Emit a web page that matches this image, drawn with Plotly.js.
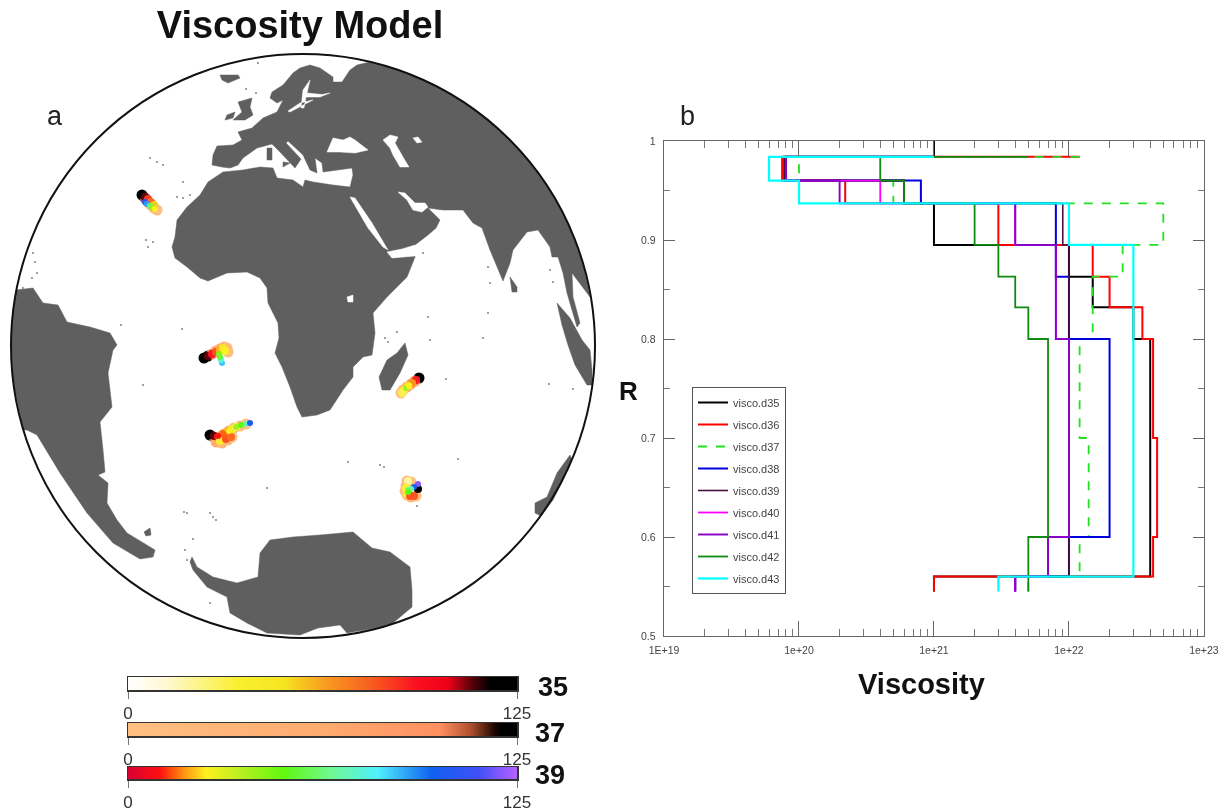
<!DOCTYPE html>
<html>
<head>
<meta charset="utf-8">
<script src="https://cdn.plot.ly/plotly-3.0.1.min.js"></script>
<style>
html,body{margin:0;padding:0;background:#fff;}
#chart{width:1218px;height:812px;filter:blur(0.45px);}
</style>
</head>
<body>
<div id="chart"></div>
<script>
// ---------- Panel b: viscosity profiles ----------
const layerEdges = [1, 0.984, 0.96, 0.937, 0.895, 0.863, 0.832, 0.80, 0.70, 0.60, 0.56, 0.545];
const seriesNames = ['visco.d35','visco.d36','visco.d37','visco.d38','visco.d39','visco.d40','visco.d41','visco.d42','visco.d43'];
const d35 = [1e21, 7.8e19, 6e20, 1e21, 1e22, 1.5e22, 3e22, 4e22, 4e22, 4e22, 1e21];
const d36 = [1.2e22, 7.5e19, 2.2e20, 3e21, 1.5e22, 2e22, 3.5e22, 4.2e22, 4.5e22, 4.2e22, 1e21];
const d37 = [1.2e22, 1e20, 5e20, 5e22, 2.5e22, 1.5e22, 1.5e22, 1.2e22, 1.4e22, 1.2e22, 5e21];
const d38 = [1e21, 8e19, 8e20, 8e21, 8e21, 1e22, 1e22, 2e22, 2e22, 1e22, 4e21];
const d39 = [1e21, 7.8e19, 6e20, 9e21, 1e22, 1e22, 1e22, 1e22, 1e22, 1e22, 4e21];
const d40 = [1e21, 8e19, 4e20, 4e21, 8e21, 8e21, 8e21, 1e22, 1e22, 7e21, 4e21];
const d41 = [1e21, 8e19, 2e20, 4e21, 8e21, 8e21, 8e21, 1e22, 1e22, 7e21, 4e21];
const d42 = [5e21, 4e20, 6e20, 2e21, 3e21, 4e21, 5e21, 7e21, 7e21, 5e21, 5e21];
const d43 = [1e21, 6e19, 1e20, 1e22, 3e22, 3e22, 3e22, 3e22, 3e22, 3e22, 3e21];
const seriesValues = [d35,d36,d37,d38,d39,d40,d41,d42,d43];
const seriesTop = [1, 0.984, 0.984, 0.984, 0.984, 0.984, 0.984, 0.984, 0.984];
const seriesColors = ['#000000','#ff0000','#22e022','#0000dd','#4a0f3c','#ff00ff','#8a00c8','#118a11','#00ffff'];
const seriesDash = ['solid','solid','dash','solid','solid','solid','solid','solid','solid'];
const seriesWidth = [2,2,1.8,2,1.6,1.8,1.9,1.8,2.2];
const xTickVals = [1e19,1e20,1e21,1e22,1e23];
const xTickText = ['1E+19','1e+20','1e+21','1e+22','1e+23'];
const xMinor = [];
[19,20,21,22].forEach(d=>[2,3,4,5,6,7,8,9].forEach(m=>xMinor.push(m*Math.pow(10,d))));
const yTickVals = [0.5,0.6,0.7,0.8,0.9,1];
const yTickText = ['0.5','0.6','0.7','0.8','0.9','1'];
const yMinor = [0.55,0.65,0.75,0.85,0.95];

// ---------- Panel a: map outlines, in map-plane units ----------
const afroEurasiaX = [223,208,200,187,177,175,172,175,187,200,208,227,247,260,267,268,278,279,275,282,290,297,302,317,330,343,353,353,363,372,375,373,387,407,415,415,428,436,440,428,443,463,473,482,490,497,503,510,513,527,538,550,552,558,563,567,577,580,573,572,587,590,583,570,550,525,500,470,433,400,370,357,350,342,333,333,320,310,300,293,283,272,270,277,283,277,263,252,238,242,233,217,213,212,222,230,238,243,257,272,280,290,295,301,286,288,303,310,317,315,322,323,352,353,350,333,313,305,303,293,277,273,260,243];
const afroEurasiaY = [172,182,195,207,220,237,247,258,267,278,281,273,272,278,288,303,323,338,353,367,387,407,417,415,410,390,377,367,357,355,333,313,297,277,257,245,235,228,220,208,210,210,223,228,250,267,281,263,250,232,230,247,257,257,273,293,327,323,297,273,292,297,263,228,190,156,130,106,84,70,62,65,70,82,82,77,68,65,68,73,85,92,98,103,100,112,118,128,132,140,145,146,155,165,167,168,165,158,148,144,152,162,168,159,143,141,155,170,173,158,163,172,168,175,187,185,182,180,187,180,178,168,167,170];
const southAmericaX = [16,33,43,58,67,90,110,117,113,108,112,100,103,105,98,108,107,117,127,155,153,140,113,87,60,37,27,23,13,11,13];
const southAmericaY = [290,288,303,305,322,327,333,345,350,373,407,422,450,472,475,483,503,520,533,550,557,559,543,513,473,435,430,430,380,340,310];
const antarcticaX = [192,197,213,237,258,260,270,293,320,353,372,390,410,412,412,393,370,347,340,318,300,267,247,230,227,207,193,190];
const antarcticaY = [557,567,577,583,577,553,540,537,535,532,548,552,567,590,607,623,629,633,625,628,635,633,623,613,597,587,570,562];
const madagascarX = [405,408,400,390,382,379,387,397];
const madagascarY = [343,355,373,390,390,377,360,353];
const sumatraX = [557,570,582,590,592,592,587,575,568,562];
const sumatraY = [303,318,340,350,370,385,385,365,345,325];
const sriLankaX = [510,517,517,512];
const sriLankaY = [277,287,292,292];
const britainX = [252,250,253,245,233,242,238];
const britainY = [98,107,115,120,120,112,102];
const irelandX = [227,235,233,225];
const irelandY = [115,112,118,120];
const icelandX = [220,238,240,228,222];
const icelandY = [75,75,78,83,80];
const sardiniaX = [267,272,272,267];
const sardiniaY = [148,148,160,160];
const sicilyX = [283,290,283];
const sicilyY = [162,163,167];
const falklandX = [144,150,151,146];
const falklandY = [532,528,535,536];
const australiaX = [570,557,547,535,535,541,553,563,572];
const australiaY = [455,473,497,503,513,516,500,480,460];
const landShapes = [[afroEurasiaX,afroEurasiaY],[southAmericaX,southAmericaY],[antarcticaX,antarcticaY],[madagascarX,madagascarY],[sumatraX,sumatraY],[sriLankaX,sriLankaY],[britainX,britainY],[irelandX,irelandY],[icelandX,icelandY],[sardiniaX,sardiniaY],[sicilyX,sicilyY],[falklandX,falklandY],[australiaX,australiaY]];

const blackSeaX = [327,333,343,350,355,362,368,355,340];
const blackSeaY = [152,138,140,137,140,145,150,153,152];
const caspianX = [383,390,398,395,403,409,400,393,390];
const caspianY = [140,135,137,143,157,167,167,155,148];
const aralX = [413,418,422,417];
const aralY = [138,137,142,143];
const redSeaX = [350,355,372,388,383,368];
const redSeaY = [197,198,223,250,247,228];
const adenX = [387,402,415,420,415,400,392];
const adenY = [252,249,245,250,256,257,258];
const persianX = [398,405,415,425,428,422,413,407];
const persianY = [192,193,203,203,207,212,210,200];
const balticX = [310,303,301,304,306,320,330,322,307];
const balticY = [80,90,108,108,97,97,93,94.5,93];
const northSeaX = [313,290,288,300];
const northSeaY = [100,112,111,103];
const victoriaX = [347,353,353,348];
const victoriaY = [297,295,302,302];
const seaShapes = [[blackSeaX,blackSeaY],[caspianX,caspianY],[aralX,aralY],[redSeaX,redSeaY],[adenX,adenY],[persianX,persianY],[balticX,balticY],[northSeaX,northSeaY],[victoriaX,victoriaY]];

const islandX = [150,157,163,177,183,190,146,153,148,183,33,35,37,32,23,182,121,143,267,446,549,573,348,380,384,458,417,428,397,385,388,430,483,488,490,488,423,553,550,210,193,187,210,213,216,185,187,258,246,256,184];
const islandY = [158,162,165,197,198,195,240,242,247,182,253,262,273,278,288,329,325,385,488,379,384,389,462,465,467,459,506,317,332,338,342,340,338,313,283,267,253,282,270,603,539,513,513,517,520,550,560,63,89,93,512];

// Plume age tracks (Myr) per model
const track37X = [142,145,148,151,154,157, 204,208,212,216,220,224,227,228, 210,214,219,224,229,234,240,246,216,222,228,232, 419,415,411,407,403,401, 407,411,406,405,407,411,416];
const track37Y = [195,198,202,205,208,210, 358,356,354,351,349,347,348,352, 435,437,437,434,431,428,426,424,442,443,440,437, 378,381,384,387,390,393, 481,482,486,491,495,497,496];
const track37Age = [125,110,80,50,25,5, 125,118,100,80,60,40,20,5, 125,110,80,60,40,25,10,0,60,30,15,5, 125,100,60,40,20,0, 10,5,10,5,0,5,10];
const track35X = [142,145,148,151,154, 204,208,212,216,220,223,225, 210,214,218,223,228,232,236,220,226,231, 419,416,412,408,404,402, 408,406,407,410,414,418];
const track35Y = [195,197,199,202,205, 358,356,354,352,350,348,351, 435,436,437,434,431,429,427,441,439,437, 378,380,383,386,390,393, 481,488,494,496,496,489];
const track35Age = [125,110,85,75,55, 125,110,92,80,60,45,35, 125,110,90,75,60,45,30,40,80,75, 125,90,65,50,35,30, 20,35,35,80,80,125];
const track39X = [145,147,150,153,155, 222,221,220,219,224, 218,224,229,236,241,246,250, 406,409, 418,414,411,408,408];
const track39Y = [202,204,206,208,209, 363,360,357,354,350, 436,434,431,427,425,424,423, 388,386, 484,487,489,490,492];
const track39Age = [105,90,60,40,25, 85,75,55,45,25, 10,15,25,40,50,70,100, 40,25, 120,100,70,65,50];

// Color bars
const barAges = [0,5,10,15,20,25,30,35,40,45,50,55,60,65,70,75,80,85,90,95,100,105,110,115,120,125];
const scale35 = [[0,'#ffffff'],[0.1,'#fff8d0'],[0.28,'#f9f030'],[0.4,'#f6e420'],[0.5,'#f8a020'],[0.62,'#f86020'],[0.74,'#fa1020'],[0.82,'#f00018'],[0.88,'#600008'],[0.93,'#000000'],[1,'#000000']];
const scale37 = [[0,'#ffc080'],[0.5,'#ffab70'],[0.8,'#ff9060'],[0.88,'#b05030'],[0.94,'#200800'],[0.96,'#000000'],[1,'#000000']];
const scale39 = [[0,'#d80030'],[0.08,'#ff1010'],[0.14,'#ff9010'],[0.2,'#fff020'],[0.3,'#b0f020'],[0.4,'#60f810'],[0.52,'#70f890'],[0.64,'#50f0ff'],[0.78,'#1060f0'],[0.9,'#4050f8'],[1,'#b860ff']];

// ---------- Build traces ----------
const FONT = 'Liberation Sans, Arial, sans-serif';
const traces = [];
function polyTrace(shapes, color){
  const x=[], y=[];
  shapes.forEach(s=>{ x.push(...s[0], s[0][0], null); y.push(...s[1], s[1][0], null); });
  return {type:'scatter',mode:'lines',x,y,xaxis:'x5',yaxis:'y5',fill:'toself',fillcolor:color,
          line:{color:color,width:0.5},hoverinfo:'skip',showlegend:false};
}
traces.push(polyTrace(landShapes,'#5f5f5f'));
traces.push(polyTrace(seaShapes,'#ffffff'));
traces.push({type:'scatter',mode:'markers',x:islandX,y:islandY,xaxis:'x5',yaxis:'y5',
  marker:{color:'#8a8a8a',size:2.2},hoverinfo:'skip',showlegend:false});
function plume(x,y,age,scale,size){
  return {type:'scatter',mode:'markers',x,y,xaxis:'x5',yaxis:'y5',hoverinfo:'skip',showlegend:false,
    marker:{color:age,cmin:0,cmax:125,colorscale:scale,size:size,line:{width:0},showscale:false}};
}
traces.push(plume(track37X,track37Y,track37Age,scale37,11));
traces.push(plume(track35X,track35Y,track35Age,scale35,8));
traces.push(plume(track39X,track39Y,track39Age,scale39,6));

[[scale35,'x2','y2'],[scale37,'x3','y3'],[scale39,'x4','y4']].forEach(b=>{
  traces.push({type:'heatmap',x:barAges,y:[0,1],z:[barAges,barAges],zmin:0,zmax:125,colorscale:b[0],
    zsmooth:'best',showscale:false,xaxis:b[1],yaxis:b[2],hoverinfo:'skip'});
});

seriesNames.forEach((name,i)=>{
  const x=[], y=[];
  seriesValues[i].forEach((v,k)=>{
    x.push(v,v);
    y.push(k===0?seriesTop[i]:layerEdges[k], layerEdges[k+1]);
  });
  traces.push({type:'scatter',mode:'lines',name,x,y,xaxis:'x',yaxis:'y',legendgroup:name,
    line:{color:seriesColors[i],width:seriesWidth[i],dash:seriesDash[i]},hoverinfo:'skip'});
});

function barX(dom){
  return {domain:dom,range:[0,125],tickmode:'array',tickvals:[0,125],ticktext:['0','125'],ticks:'outside',ticklen:7,tickwidth:1,
    tickcolor:'#777',showline:true,mirror:true,linecolor:'#333',linewidth:1.5,showgrid:false,zeroline:false,
    tickfont:{family:FONT,size:17,color:'#333'},ticklabeloverflow:'allow',fixedrange:true};
}
function barY(top,bottom){
  return {domain:[1-bottom/812,1-top/812],range:[0,1],showticklabels:false,ticks:'',showline:true,mirror:true,linecolor:'#333',
    linewidth:1.5,showgrid:false,zeroline:false,fixedrange:true};
}
function note(text,px,py,size,color){
  return {text,x:px/1218,y:1-py/812,xref:'paper',yref:'paper',xanchor:'center',yanchor:'middle',showarrow:false,
    font:{family:FONT,size,color}};
}
const barDom=[128/1218,517/1218];
const layout = {
  width:1218,height:812,margin:{l:0,r:0,t:0,b:0,pad:0},paper_bgcolor:'#ffffff',plot_bgcolor:'rgba(0,0,0,0)',
  title:{text:'Viscosity Model',x:300/1218,xanchor:'center',y:1-25/812,yanchor:'middle',automargin:false,
         font:{family:FONT,size:38,color:'#111',weight:700}},
  showlegend:true,
  legend:{x:692/1218,y:1-387/812,xanchor:'left',yanchor:'top',bgcolor:'#ffffff',bordercolor:'#555',borderwidth:1,
    traceorder:'grouped',tracegroupgap:3,itemwidth:30,entrywidth:57,entrywidthmode:'pixels',font:{family:FONT,size:11,color:'#444'},itemclick:false,itemdoubleclick:false},
  xaxis:{domain:[664/1218,1204/1218],type:'log',range:[19,23.0005],tickmode:'array',tickvals:xTickVals,ticktext:xTickText,
    ticks:'inside',ticklen:15,tickcolor:'#666',tickwidth:1,showline:true,mirror:'allticks',linecolor:'#666',linewidth:1.4,showgrid:false,zeroline:false,
    minor:{tickmode:'array',tickvals:xMinor,ticks:'inside',ticklen:7,tickcolor:'#777',tickwidth:1,showgrid:false},
    tickfont:{family:FONT,size:10.5,color:'#444'},ticklabelstandoff:4,ticklabeloverflow:'allow',anchor:'y',fixedrange:true},
  yaxis:{domain:[1-636/812,1-141/812],range:[0.5,1],tickmode:'array',tickvals:yTickVals,ticktext:yTickText,
    ticks:'inside',ticklen:11,tickcolor:'#666',tickwidth:1,showline:true,mirror:'allticks',linecolor:'#666',linewidth:1.4,showgrid:false,zeroline:false,
    minor:{tickmode:'array',tickvals:yMinor,ticks:'inside',ticklen:6,tickcolor:'#777',tickwidth:1,showgrid:false},
    tickfont:{family:FONT,size:10.5,color:'#444'},ticklabelstandoff:5,anchor:'x',fixedrange:true},
  xaxis2:Object.assign(barX(barDom),{anchor:'y2'}),
  yaxis2:Object.assign(barY(677,690),{anchor:'x2'}),
  xaxis3:Object.assign(barX(barDom),{anchor:'y3'}),
  yaxis3:Object.assign(barY(723,736),{anchor:'x3'}),
  xaxis4:Object.assign(barX(barDom),{anchor:'y4'}),
  yaxis4:Object.assign(barY(767,779),{anchor:'x4'}),
  xaxis5:{domain:[0,1],range:[0,1218],visible:false,fixedrange:true,anchor:'y5'},
  yaxis5:{domain:[0,1],range:[812,0],visible:false,fixedrange:true,anchor:'x5'},
  shapes:[{type:'circle',xref:'x5',yref:'y5',x0:11,x1:595,y0:54,y1:638,line:{color:'#111',width:2},layer:'above'}],
  annotations:[
    note('a',55,116,27,'#222'),
    note('b',687,116,27,'#222'),
    note('<b>R</b>',628,391,26,'#111'),
    note('<b>Viscosity</b>',921,684,29,'#111'),
    note('<b>35</b>',553,687,27,'#111'),
    note('<b>37</b>',550,733,27,'#111'),
    note('<b>39</b>',550,775,27,'#111')
  ]
};
Plotly.newPlot('chart',traces,layout,{staticPlot:true,displayModeBar:false});
</script>
</body>
</html>
